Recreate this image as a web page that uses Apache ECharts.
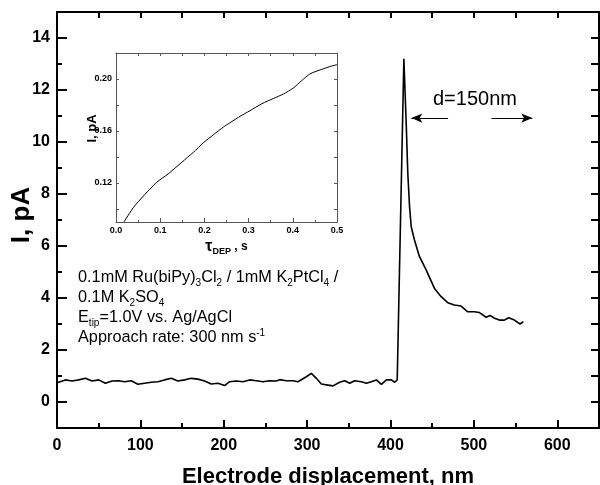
<!DOCTYPE html>
<html><head><meta charset="utf-8">
<script src="https://cdn.jsdelivr.net/npm/echarts@6/dist/echarts.min.js"></script>
<style>html,body{margin:0;padding:0;background:#fff}#c{width:600px;height:485px}</style>
</head><body><div id="c"></div>
<script>
// ---- main trace: current vs electrode displacement ----
const displacementNm = [0,10,18,26,34,42,50,58,66,74,81,89,97,105,113,121,129,137,145,153,161,169,177,185,193,201,207,215,223,231,239,247,255,263,267,275,283,289,299,305,311,317,325,331,339,345,351,357,365,371,377,383,389,395,401,405,408,416,418.8,420.7,422.8,424.8,428.7,434.7,442.7,452.7,460.7,468.6,476.6,484.6,492.6,500.6,506.6,514.6,519.4,524.6,530.5,536.5,541.7,548.5,555.3,559.3];
const currentPA = [0.74,0.85,0.81,0.85,0.91,0.81,0.85,0.72,0.81,0.82,0.78,0.82,0.68,0.72,0.76,0.78,0.85,0.91,0.81,0.85,0.91,0.88,0.81,0.69,0.72,0.63,0.78,0.81,0.78,0.85,0.82,0.78,0.82,0.81,0.86,0.82,0.82,0.78,0.97,1.10,0.91,0.69,0.65,0.62,0.76,0.82,0.72,0.82,0.78,0.72,0.78,0.85,0.68,0.85,0.85,0.76,0.85,13.2,10.72,8.8,7.51,6.74,6.23,5.59,5.08,4.37,4.05,3.82,3.73,3.69,3.47,3.47,3.44,3.26,3.33,3.22,3.15,3.15,3.24,3.15,3.0,3.09];
// ---- inset: current vs deposition time ----
const tauDepS = [0.018,0.039,0.062,0.092,0.118,0.149,0.175,0.198,0.220,0.243,0.277,0.303,0.330,0.356,0.379,0.401,0.420,0.439,0.462,0.488,0.500];
const insetCurrentPA = [0.090,0.101,0.110,0.1205,0.127,0.136,0.1436,0.151,0.157,0.163,0.1705,0.1756,0.181,0.185,0.1885,0.193,0.1987,0.204,0.207,0.210,0.211];
// ---- tick labels ----
const mainXTickLabels = [0,100,200,300,400,500,600];
const mainYTickLabels = [0,2,4,6,8,10,12,14];
const insetXTickLabels = ['0.0','0.1','0.2','0.3','0.4','0.5'];
const insetYTickLabels = ['0.12','0.16','0.20'];
// ---- annotation ----
const arrowY = 10.92;
const arrowLeft = [469, 425];
const arrowRight = [521, 570];

const FF = 'Liberation Sans, Arial, Helvetica, sans-serif';
const chart = echarts.init(document.getElementById('c'), null, {renderer:'canvas'});

const blk = '#000';
const mainLine = {show:true, onZero:false, lineStyle:{color:blk, width:2}};
const insetCol = '#555';
const insetLine = {show:true, onZero:false, lineStyle:{color:insetCol, width:1}};

function pairs(xs, ys){ return xs.map((x,i)=>[x, ys[i]]); }

const subRich = {sub:{fontFamily:FF, fontSize:10, lineHeight:10, verticalAlign:'bottom', color:blk},
                 sup:{fontFamily:FF, fontSize:10, lineHeight:10, verticalAlign:'top', color:blk}};
const noteStyle = {fontFamily:FF, fontSize:16.3, fontWeight:'normal', color:blk, lineHeight:20, rich:subRich};

const option = {
  animation:false,
  backgroundColor:'#fff',
  grid:[
    {left:57, top:12, width:542, height:416, containLabel:false, outerBoundsMode:'none'},
    {left:116, top:53, width:221, height:169, containLabel:false, outerBoundsMode:'none'}
  ],
  title:[
    {text:'d=150nm', left:433, top:89, padding:0, textStyle:{fontFamily:FF, fontSize:20, fontWeight:'normal', color:blk}},
    {text:'0.1mM Ru(biPy){sub|3}Cl{sub|2} / 1mM K{sub|2}PtCl{sub|4} /', left:78, top:268, padding:0, textStyle:noteStyle},
    {text:'0.1M K{sub|2}SO{sub|4}', left:78, top:288, padding:0, textStyle:noteStyle},
    {text:'E{sub|tip}=1.0V vs. Ag/AgCl', left:78, top:308, padding:0, textStyle:noteStyle},
    {text:'Approach rate: 300 nm s{sup|-1}', left:78, top:328, padding:0, textStyle:noteStyle}
  ],
  xAxis:[
    {gridIndex:0, type:'value', position:'bottom', min:0, max:650, interval:100,
      axisLine:mainLine,
      axisTick:{show:true, inside:true, length:8, lineStyle:{color:blk, width:2}},
      minorTick:{show:true, splitNumber:2, length:5, lineStyle:{color:blk, width:2}},
      splitLine:{show:false}, minorSplitLine:{show:false},
      axisLabel:{show:true, margin:10, color:blk, fontFamily:FF, fontSize:16, fontWeight:'bold',
        formatter:v=> mainXTickLabels.indexOf(v)>=0 ? String(v) : ''},
      name:'Electrode displacement, nm', nameLocation:'middle', nameGap:38, nameMoveOverlap:false,
      nameTextStyle:{fontFamily:FF, fontSize:22, fontWeight:'bold', color:blk}},
    {gridIndex:0, type:'value', position:'top', min:0, max:650, interval:50,
      axisLine:mainLine,
      axisTick:{show:true, inside:true, length:6, lineStyle:{color:blk, width:2}},
      splitLine:{show:false}, axisLabel:{show:false}},
    {gridIndex:1, type:'value', position:'bottom', min:0, max:0.5, interval:0.1,
      axisLine:insetLine,
      axisTick:{show:true, inside:true, length:4, lineStyle:{color:insetCol, width:1}},
      minorTick:{show:true, splitNumber:2, length:2, lineStyle:{color:insetCol, width:1}},
      splitLine:{show:false}, minorSplitLine:{show:false},
      axisLabel:{show:true, margin:4, color:blk, fontFamily:FF, fontSize:9, fontWeight:'bold',
        formatter:v=>{const s=v.toFixed(1); return insetXTickLabels.indexOf(s)>=0 ? s : '';}},
      name:'{t|τ}{s|DEP}{n| , s}', nameLocation:'middle', nameGap:16, nameMoveOverlap:false,
      nameTextStyle:{fontFamily:FF, fontWeight:'bold', color:blk, fontSize:12, lineHeight:18,
        rich:{t:{fontFamily:FF, fontSize:16, fontWeight:'bold', color:blk, lineHeight:18},
              s:{fontFamily:FF, fontSize:9, fontWeight:'bold', color:blk, lineHeight:9, verticalAlign:'bottom'},
              n:{fontFamily:FF, fontSize:12, fontWeight:'bold', color:blk, lineHeight:18}}}},
    {gridIndex:1, type:'value', position:'top', min:0, max:0.5, interval:0.05,
      axisLine:insetLine,
      axisTick:{show:true, inside:true, length:3, lineStyle:{color:insetCol, width:1}},
      splitLine:{show:false}, axisLabel:{show:false}}
  ],
  yAxis:[
    {gridIndex:0, type:'value', position:'left', min:-1, max:15, splitNumber:8,
      axisLine:mainLine,
      axisTick:{show:true, inside:true, length:10, lineStyle:{color:blk, width:2}},
      minorTick:{show:true, splitNumber:2, length:5, lineStyle:{color:blk, width:2}},
      splitLine:{show:false}, minorSplitLine:{show:false},
      axisLabel:{show:true, margin:7, color:blk, fontFamily:FF, fontSize:16, fontWeight:'bold',
        formatter:v=> mainYTickLabels.indexOf(v)>=0 ? String(v) : ''},
      name:'I, pA', nameLocation:'middle', nameGap:22, nameRotate:90, nameMoveOverlap:false,
      nameTextStyle:{fontFamily:FF, fontSize:26, fontWeight:'bold', color:blk, padding:[0,0,0,10]}},
    {gridIndex:0, type:'value', position:'right', min:-1, max:15, interval:1,
      axisLine:mainLine,
      axisTick:{show:true, inside:true, length:8, lineStyle:{color:blk, width:2}},
      splitLine:{show:false}, axisLabel:{show:false}},
    {gridIndex:1, type:'value', position:'left', min:0.09, max:0.22, splitNumber:6,
      axisLine:insetLine,
      axisTick:{show:true, inside:true, length:3, lineStyle:{color:insetCol, width:1}},
      splitLine:{show:false},
      axisLabel:{show:true, margin:4, color:blk, fontFamily:FF, fontSize:9, fontWeight:'bold',
        formatter:v=>{const s=v.toFixed(2); return insetYTickLabels.indexOf(s)>=0 ? s : '';}},
      name:'I, pA', nameLocation:'middle', nameGap:17, nameRotate:90, nameMoveOverlap:false,
      nameTextStyle:{fontFamily:FF, fontSize:13, fontWeight:'bold', color:blk, padding:[0,0,0,18]}},
    {gridIndex:1, type:'value', position:'right', min:0.09, max:0.22, splitNumber:6,
      axisLine:insetLine,
      axisTick:{show:true, inside:true, length:3, lineStyle:{color:insetCol, width:1}},
      splitLine:{show:false}, axisLabel:{show:false}}
  ],
  series:[
    {type:'line', xAxisIndex:0, yAxisIndex:0, data:pairs(displacementNm, currentPA),
      showSymbol:false, symbol:'none', lineStyle:{color:blk, width:1.6}, clip:true,
      markLine:{silent:true, symbol:['none','arrow'], symbolSize:[7,11], label:{show:false},
        lineStyle:{color:blk, width:1, type:'solid'}, emphasis:{disabled:true},
        data:[
          [{coord:[arrowLeft[0], arrowY]},{coord:[arrowLeft[1], arrowY]}],
          [{coord:[arrowRight[0], arrowY]},{coord:[arrowRight[1], arrowY]}]
        ]}},
    {type:'line', xAxisIndex:2, yAxisIndex:2, data:pairs(tauDepS, insetCurrentPA),
      showSymbol:false, symbol:'none', smooth:0.2, lineStyle:{color:blk, width:1}, clip:true}
  ]
};
chart.setOption(option);
</script></body></html>
